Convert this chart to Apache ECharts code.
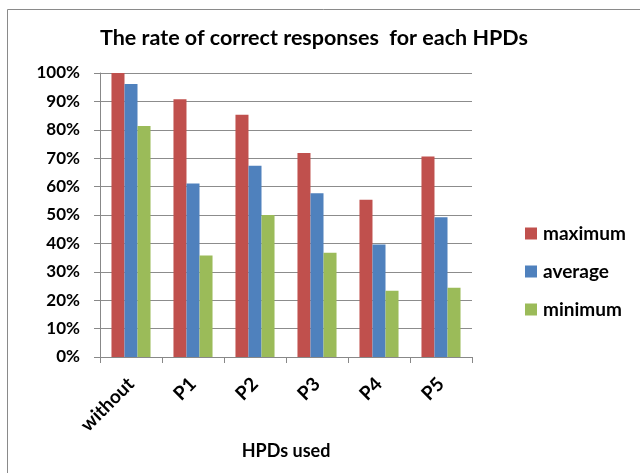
<!DOCTYPE html>
<html><head><meta charset="utf-8">
<script src="https://cdn.jsdelivr.net/npm/echarts@6/dist/echarts.min.js"></script>
<style>html,body{margin:0;padding:0;background:#fff}#c{width:640px;height:473px}</style>
</head><body><div id="c"></div>
<script>
const categories = ['without','P1','P2','P3','P4','P5'];
const maximum = [100, 90.8, 85.3, 71.8, 55.4, 70.6];
const average = [96.1, 61.1, 67.3, 57.7, 39.6, 49.2];
const minimum = [81.3, 35.7, 50.0, 36.7, 23.3, 24.4];
const yTicks = [0,10,20,30,40,50,60,70,80,90,100];
const FONT = 'Lato';
const chart = echarts.init(document.getElementById('c'), null, {renderer:'canvas'});
chart.setOption({
  animation:false,
  textStyle:{fontFamily:FONT},
  graphic:[
    {type:'polyline',shape:{points:[[7.5,480],[7.5,9.5],[640,9.5]]},style:{fill:'none',stroke:'#8a8a8a',lineWidth:1},silent:true}
  ],
  title:{text:'The rate of correct responses  for each HPDs',left:309,top:22,textAlign:'center',
    textStyle:{fontFamily:FONT,fontWeight:'bold',fontSize:21.5,color:'#000'}},
  legend:{orient:'vertical',left:520,top:219,itemGap:19,itemWidth:12,itemHeight:12,icon:'rect',
    textStyle:{fontFamily:FONT,fontWeight:'bold',fontSize:19,color:'#000',padding:[0,0,0,1]},
    data:['maximum','average','minimum']},
  grid:{left:100,right:168,top:73,bottom:116,containLabel:false},
  xAxis:{type:'category',data:categories,
    name:'HPDs used',nameLocation:'middle',nameGap:85,
    nameTextStyle:{fontFamily:FONT,fontWeight:'bold',fontSize:18,color:'#000'},
    axisLine:{lineStyle:{color:'#888',width:1}},
    axisTick:{show:true,length:6,lineStyle:{color:'#888'}},
    axisLabel:{rotate:45,margin:24,fontFamily:FONT,fontWeight:'bold',fontSize:19,color:'#000'}},
  yAxis:{type:'value',min:0,max:100,interval:10,
    axisLine:{show:true,lineStyle:{color:'#888'}},
    axisTick:{show:true,length:6,lineStyle:{color:'#888'}},
    splitLine:{lineStyle:{color:'#8c8c8c',width:1}},
    axisLabel:{margin:20,fontFamily:FONT,fontWeight:'bold',fontSize:17,color:'#000',
      formatter:v=>yTicks.includes(v)?v+'%':''}},
  series:[
    {name:'maximum',type:'bar',data:maximum,itemStyle:{color:'#C0504D'},barGap:'0%',barCategoryGap:'37%'},
    {name:'average',type:'bar',data:average,itemStyle:{color:'#4F81BD'},barGap:'0%',barCategoryGap:'37%'},
    {name:'minimum',type:'bar',data:minimum,itemStyle:{color:'#9BBB59'},barGap:'0%',barCategoryGap:'37%'}
  ]
});
</script></body></html>
